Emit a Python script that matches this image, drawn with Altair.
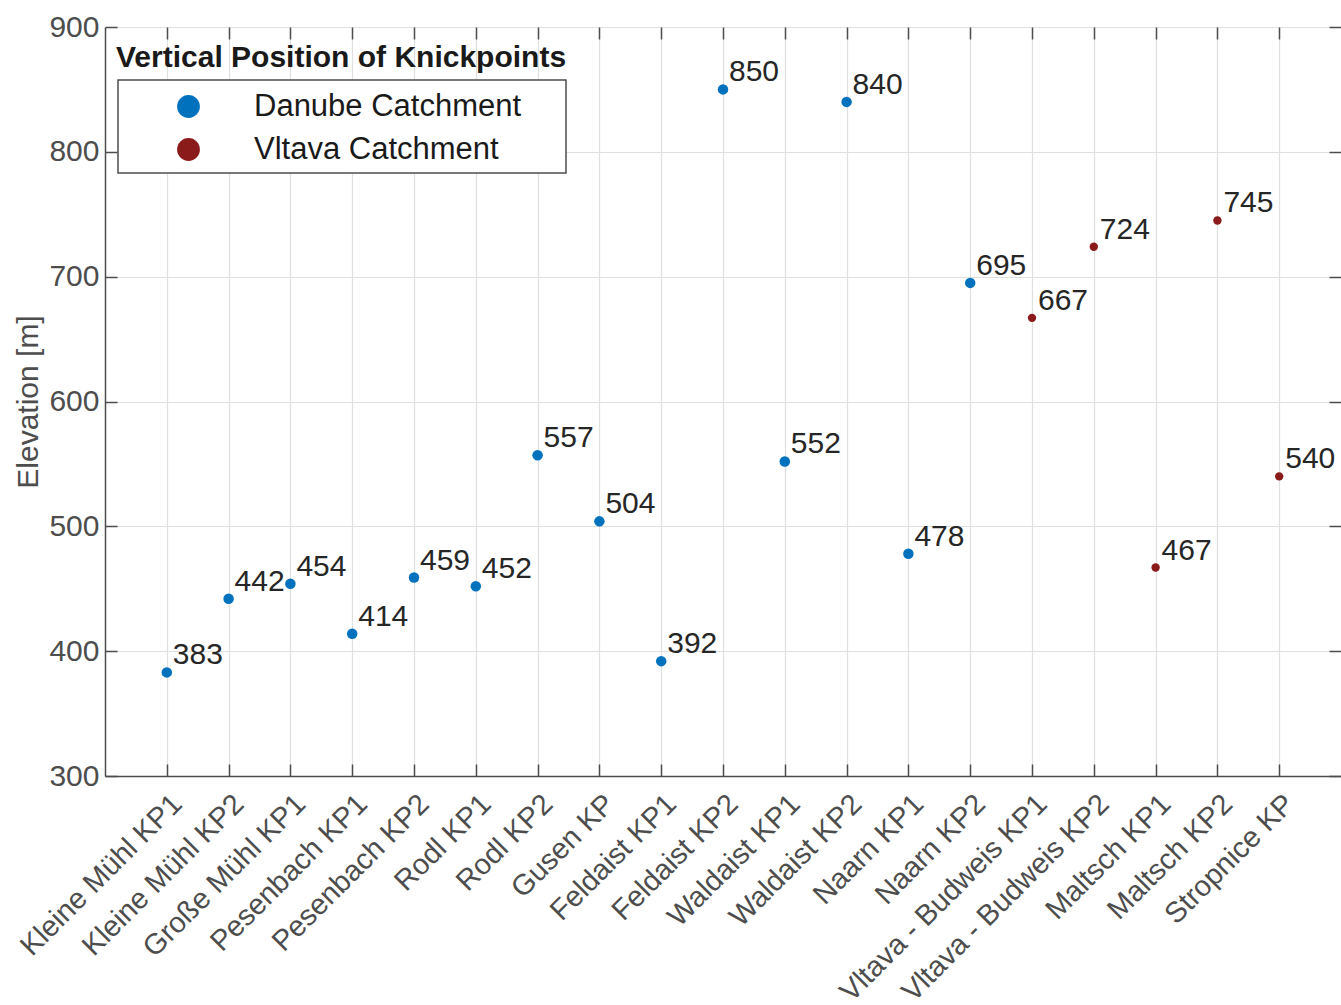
import altair as alt
import pandas as pd

# Knickpoint sites (in plotting order), their catchment and elevation in metres
sites = [
    "Kleine Mühl KP1", "Kleine Mühl KP2", "Große Mühl KP1", "Pesenbach KP1",
    "Pesenbach KP2", "Rodl KP1", "Rodl KP2", "Gusen KP", "Feldaist KP1",
    "Feldaist KP2", "Waldaist KP1", "Waldaist KP2", "Naarn KP1", "Naarn KP2",
    "Vltava - Budweis KP1", "Vltava - Budweis KP2", "Maltsch KP1", "Maltsch KP2",
    "Stropnice KP",
]
catchments = ["Danube Catchment"] * 14 + ["Vltava Catchment"] * 5
elevations = [383, 442, 454, 414, 459, 452, 557, 504, 392, 850, 552, 840, 478, 695,
              667, 724, 467, 745, 540]

series_names = ["Danube Catchment", "Vltava Catchment"]
series_colors = ["#0072BD", "#8B1A1A"]
y_ticks = [300, 400, 500, 600, 700, 800, 900]
legend_title = "Vertical Position of Knickpoints"

df = pd.DataFrame({"site": sites, "catchment": catchments, "elev": elevations})

PLOT_W, PLOT_H = 1236, 749
AXIS = "#4d4d4d"
FONT = "Liberation Sans"

x_scale = alt.Scale(type="point", padding=1)
y_scale = alt.Scale(domain=[300, 900], nice=False, zero=False)

# inward-pointing tick marks (drawn by offset axes) for the boxed look
ticks_only = dict(labels=False, domain=False, grid=False, ticks=True, tickSize=12,
                  tickWidth=1.5, tickColor=AXIS, title=None)

points = alt.Chart(df).mark_circle(opacity=1).encode(
    x=alt.X("site:N", sort=None, scale=x_scale, title=None,
            axis=alt.Axis(orient="bottom", ticks=False, domain=True, domainColor=AXIS,
                          domainWidth=1.5, grid=True, gridColor="#e0e0e0", gridWidth=1.2,
                          labelAngle=-45, labelAlign="right", labelBaseline="top",
                          labelFontSize=29, labelColor=AXIS, labelFont=FONT,
                          labelPadding=13, labelLimit=400)),
    y=alt.Y("elev:Q", scale=y_scale, title="Elevation [m]",
            axis=alt.Axis(orient="left", values=y_ticks, ticks=False, domain=True,
                          domainColor=AXIS, domainWidth=1.5, grid=True,
                          gridColor="#e0e0e0", gridWidth=1.2, labelFontSize=30,
                          labelColor=AXIS, labelFont=FONT, labelPadding=6,
                          titleFontSize=30, titleFont=FONT, titleColor=AXIS,
                          titleFontWeight="normal", titlePadding=5)),
    color=alt.Color("catchment:N",
                    scale=alt.Scale(domain=series_names, range=series_colors),
                    legend=alt.Legend(title=None, orient="none", legendX=68, legendY=64,
                                      padding=0, symbolSize=520, symbolType="circle",
                                      symbolStrokeWidth=0, labelFontSize=31,
                                      labelFont=FONT, labelColor="#1a1a1a",
                                      labelOffset=50, rowPadding=11, labelLimit=500)),
    size=alt.condition(alt.datum.catchment == series_names[1],
                       alt.value(70), alt.value(110)),
)

labels = alt.Chart(df).mark_text(
    align="left", baseline="alphabetic", dx=6, dy=-8, fontSize=30, font=FONT,
    color="#262626",
).encode(
    x=alt.X("site:N", sort=None, scale=x_scale,
            axis=alt.Axis(orient="top", offset=-PLOT_H, **ticks_only)),
    y=alt.Y("elev:Q", scale=y_scale,
            axis=alt.Axis(orient="right", offset=-PLOT_W, values=y_ticks, **ticks_only)),
    text=alt.Text("elev:Q"),
)

ghost = alt.Chart(df).mark_circle(opacity=0).encode(
    x=alt.X("site:N", sort=None, scale=x_scale,
            axis=alt.Axis(orient="bottom", offset=-PLOT_H, **ticks_only)),
    y=alt.Y("elev:Q", scale=y_scale,
            axis=alt.Axis(orient="left", offset=-PLOT_W, values=y_ticks, **ticks_only)),
)

legend_frame = alt.Chart(pd.DataFrame({"k": [0]})).mark_rect(
    fill="white", stroke=AXIS, strokeWidth=1.5,
).encode(x=alt.value(13), x2=alt.value(461), y=alt.value(53), y2=alt.value(146))

legend_head = alt.Chart(pd.DataFrame({"t": [legend_title]})).mark_text(
    align="left", baseline="alphabetic", fontSize=30, fontWeight="bold", font=FONT,
    color="#1a1a1a",
).encode(x=alt.value(11), y=alt.value(40), text="t:N")

chart = alt.layer(points, labels, ghost, legend_frame, legend_head).resolve_axis(
    x="independent", y="independent"
).properties(
    width=PLOT_W, height=PLOT_H,
    autosize=alt.AutoSizeParams(type="none"),
    padding={"left": 105, "top": 27, "right": 0, "bottom": 229},
).configure_view(
    stroke=AXIS, strokeWidth=1.5,
).configure(background="white")

chart.save("out.html", embed_options={"renderer": "svg", "actions": False})
